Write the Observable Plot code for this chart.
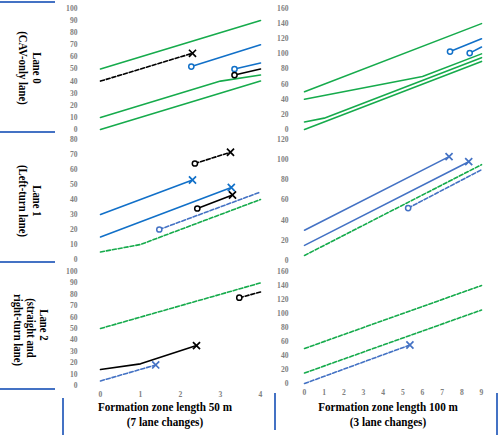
<!DOCTYPE html>
<html><head><meta charset="utf-8">
<script src="https://cdn.jsdelivr.net/npm/d3@7"></script>
<script src="https://cdn.jsdelivr.net/npm/@observablehq/plot@0.6"></script>
<style>
body{margin:0;background:#fff}
#chart{position:relative;width:500px;height:435px;overflow:hidden;background:#fff}
.panel{position:absolute}
.panel svg{background:transparent !important}
.panel text{font-family:"Liberation Serif","Times New Roman",serif !important;font-weight:bold;font-size:7.6px;fill:#808080}
.deco{position:absolute;background:#4472c4}
.title{position:absolute;font-family:"Liberation Serif","Times New Roman",serif;font-weight:bold;font-size:13px;text-align:center;line-height:14.5px;color:#000;white-space:nowrap;transform:scaleX(0.86);transform-origin:center}
#labels{position:absolute;left:0;top:0}
#labels text{font-family:"Liberation Serif","Times New Roman",serif;font-weight:bold;font-size:10.8px;fill:#000}
</style></head><body><div id="chart"></div>
<script>
// ---- tick labels ----
const xTicks50 = [0, 1, 2, 3, 4];
const xTicks100 = [0, 1, 2, 3, 4, 5, 6, 7, 8, 9];
const yTicksLane0_50 = [0, 10, 20, 30, 40, 50, 60, 70, 80, 90, 100];
const yTicksLane0_100 = [0, 20, 40, 60, 80, 100, 120, 140, 160];
const yTicksLane1_50 = [0, 10, 20, 30, 40, 50, 60, 70, 80];
const yTicksLane1_100 = [0, 20, 40, 60, 80, 100, 120];
const yTicksLane2_50 = [0, 10, 20, 30, 40, 50, 60, 70, 80, 90, 100];
const yTicksLane2_100 = [0, 20, 40, 60, 80, 100, 120, 140, 160];

// ---- text ----
const laneLabels = [["Lane 0", "(CAV-only lane)"], ["Lane 1", "(Left-turn lane)"], ["Lane 2", "(straight and", "right-turn lane)"]];
const xTitles = [["Formation zone length 50 m", "(7 lane changes)"], ["Formation zone length 100 m", "(3 lane changes)"]];

// ---- series (cls: series group, line: solid/dash, start/end: marker type) ----
const lane0_50 = [
  {cls: "G", line: "solid", x: [0, 4], y: [50, 90]},
  {cls: "G", line: "solid", x: [0, 3, 4], y: [10, 40, 45]},
  {cls: "G", line: "solid", x: [0, 4], y: [0, 40]},
  {cls: "K", line: "dash", x: [0, 2.3], y: [40, 63], end: "x"},
  {cls: "B", line: "solid", x: [2.27, 4], y: [52, 70], start: "o"},
  {cls: "B", line: "solid", x: [3.35, 4], y: [50, 55], start: "o"},
  {cls: "K", line: "solid", x: [3.35, 4], y: [45, 50], start: "o"}
];
const lane0_100 = [
  {cls: "G", line: "solid", x: [0, 9], y: [50, 140]},
  {cls: "G", line: "solid", x: [0, 6, 9], y: [40, 70, 100]},
  {cls: "G", line: "solid", x: [0, 1, 9], y: [10, 15, 95]},
  {cls: "G", line: "solid", x: [0, 9], y: [0, 90]},
  {cls: "B", line: "solid", x: [7.4, 9], y: [103, 120], start: "o"},
  {cls: "B", line: "solid", x: [8.4, 9], y: [101, 109], start: "o"}
];
const lane1_50 = [
  {cls: "B", line: "solid", x: [0, 2.3], y: [30, 53], end: "x"},
  {cls: "B", line: "solid", x: [0, 3.27], y: [15, 48], end: "x"},
  {cls: "K", line: "dash", x: [2.36, 3.25], y: [64, 71.5], start: "o", end: "x"},
  {cls: "K", line: "solid", x: [2.42, 3.3], y: [34, 43], start: "o", end: "x"},
  {cls: "B2", line: "dash", x: [1.47, 4], y: [20, 45], start: "o"},
  {cls: "G", line: "dash", x: [0, 1, 4], y: [5, 10, 40]}
];
const lane1_100 = [
  {cls: "B2", line: "solid", x: [0, 7.35], y: [30, 103], end: "x"},
  {cls: "B2", line: "solid", x: [0, 8.35], y: [15, 98], end: "x"},
  {cls: "G", line: "dash", x: [0, 9], y: [5, 95]},
  {cls: "B2", line: "dash", x: [5.27, 9], y: [52, 90], start: "o"}
];
const lane2_50 = [
  {cls: "G", line: "dash", x: [0, 4], y: [50, 90]},
  {cls: "K", line: "dash", x: [3.47, 4], y: [77, 82], start: "o"},
  {cls: "K", line: "solid", x: [0, 1, 2.4], y: [14, 19, 35], end: "x"},
  {cls: "B2", line: "dash", x: [0, 1.38], y: [4, 18], end: "x"}
];
const lane2_100 = [
  {cls: "G", line: "dash", x: [0, 9], y: [50, 140]},
  {cls: "G", line: "dash", x: [0, 9], y: [15, 105]},
  {cls: "B2", line: "dash", x: [0, 5.36], y: [0, 55], end: "x"}
];

// ---- styling ----
const COLORS = {G: "#16ab4c", B: "#1170c8", B2: "#4472c4", K: "#000000"};

const chart = document.getElementById("chart");

function panel(series, o) {
  const marks = [];
  for (const s of series) {
    const pts = s.x.map((x, i) => ({x, y: s.y[i]}));
    const c = COLORS[s.cls];
    marks.push(Plot.line(pts, {x: "x", y: "y", stroke: c, strokeWidth: 1.6,
      strokeDasharray: s.line === "dash" ? "4,2" : null}));
    if (s.start === "o") marks.push(Plot.dot([pts[0]], {x: "x", y: "y", symbol: "circle", r: 2.6, stroke: c, fill: "white", strokeWidth: 1.5}));
    if (s.end === "x") marks.push(Plot.dot([pts[pts.length - 1]], {x: "x", y: "y", symbol: "times", r: 3.3, stroke: c, strokeWidth: 1.7}));
  }
  const svg = Plot.plot({
    width: o.width, height: o.height,
    marginLeft: o.ml, marginRight: o.mr, marginTop: o.mt, marginBottom: o.mb,
    x: o.xTicks ? {domain: o.xDomain, ticks: o.xTicks, tickFormat: d => String(d), tickSize: 0, tickPadding: 6, label: null}
                : {domain: o.xDomain, axis: null},
    y: {domain: o.yDomain, ticks: o.yTicks, tickFormat: d => String(d), tickSize: 0, tickPadding: o.yPad, label: null},
    style: {background: "transparent"},
    marks
  });
  const div = document.createElement("div");
  div.className = "panel";
  div.style.left = o.left + "px";
  div.style.top = o.top + "px";
  div.appendChild(svg);
  chart.appendChild(div);
}

const L = {left: 0, width: 270, ml: 100, mr: 10, xDomain: [0, 4], yPad: 23};
const R = {left: 270, width: 230, ml: 34, mr: 19, xDomain: [0, 9], yPad: 16};

panel(lane0_50, {...L, top: 0, height: 137, mt: 8, mb: 8, yDomain: [0, 100], yTicks: yTicksLane0_50});
panel(lane0_100, {...R, top: 0, height: 137, mt: 8, mb: 8, yDomain: [0, 160], yTicks: yTicksLane0_100});
panel(lane1_50, {...L, top: 130, height: 135, mt: 9, mb: 6, yDomain: [0, 80], yTicks: yTicksLane1_50});
panel(lane1_100, {...R, top: 130, height: 135, mt: 9, mb: 5, yDomain: [0, 120], yTicks: yTicksLane1_100});
panel(lane2_50, {...L, top: 262, height: 173, mt: 9, mb: 50, yDomain: [0, 100], yTicks: yTicksLane2_50, xTicks: xTicks50});
panel(lane2_100, {...R, top: 262, height: 173, mt: 9, mb: 52, yDomain: [0, 160], yTicks: yTicksLane2_100, xTicks: xTicks100});

// decorative table borders
[[0, 1, 55, 2], [0, 131, 55, 2], [0, 261, 55, 2], [0, 388, 55, 2],
 [62, 398, 2, 37], [274, 393, 2, 37], [496, 393, 2, 42]].forEach(([l, t, w, h]) => {
  const d = document.createElement("div");
  d.className = "deco";
  Object.assign(d.style, {left: l + "px", top: t + "px", width: w + "px", height: h + "px"});
  chart.appendChild(d);
});

// x titles
[[65, 400], [288, 400]].forEach(([l, t], i) => {
  const d = document.createElement("div");
  d.className = "title";
  Object.assign(d.style, {left: l + "px", top: t + "px", width: "200px"});
  d.innerHTML = xTitles[i].join("<br>");
  chart.appendChild(d);
});

// lane labels (rotated)
const ns = "http://www.w3.org/2000/svg";
const lab = document.createElementNS(ns, "svg");
lab.setAttribute("id", "labels");
lab.setAttribute("width", 500);
lab.setAttribute("height", 435);
const labPos = [[[37, 68], [23, 68]], [[37, 201], [23, 201]], [[44, 325], [31, 328], [18, 330]]];
laneLabels.forEach((lines, i) => {
  lines.forEach((txt, j) => {
    const [x, y] = labPos[i][j];
    const t = document.createElementNS(ns, "text");
    t.setAttribute("transform", `translate(${x},${y}) rotate(90) scale(1,1.1)`);
    t.setAttribute("text-anchor", "middle");
    t.setAttribute("dominant-baseline", "central");
    t.textContent = txt;
    lab.appendChild(t);
  });
});
chart.appendChild(lab);
</script></body></html>
